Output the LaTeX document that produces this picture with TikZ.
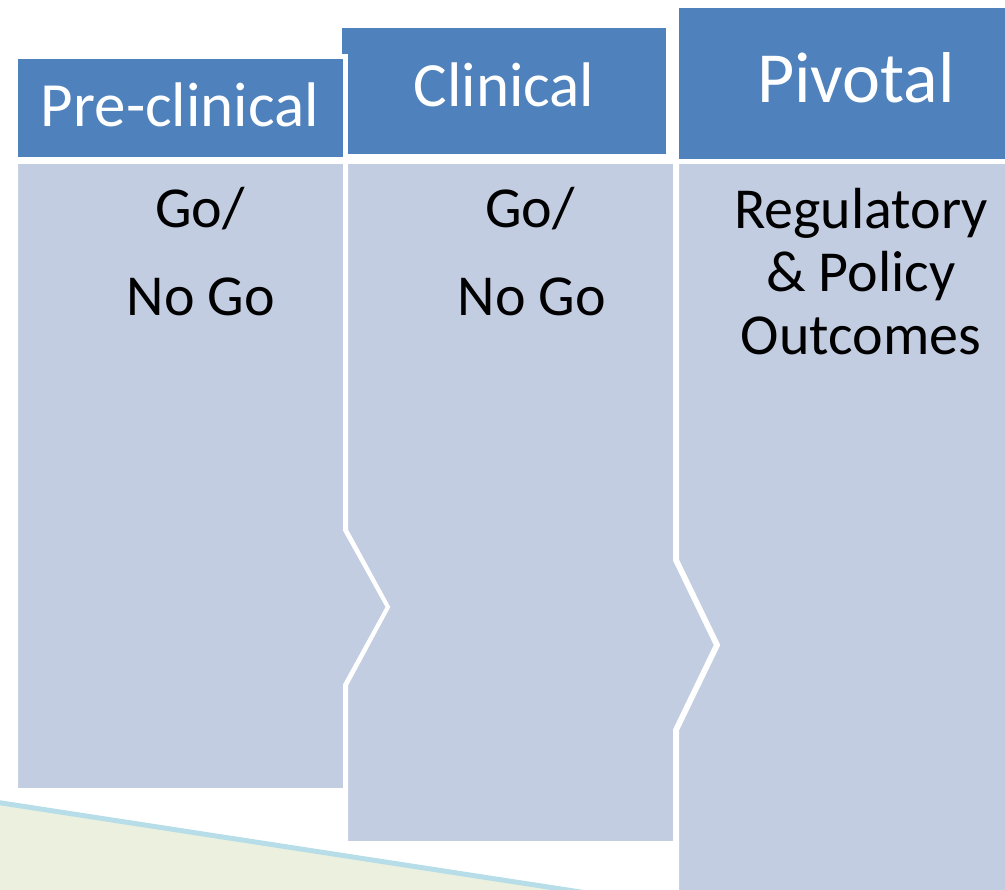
\documentclass[tikz,border=0pt]{standalone}
\usepackage{fontspec}
\setmainfont{Carlito}
\usepackage{xcolor}

\definecolor{hdrblue}{HTML}{4F81BD}
\definecolor{bodyblue}{HTML}{C3CDE2}
\definecolor{lightgreen}{HTML}{EBF1DE}
\definecolor{lineblue}{HTML}{B7DEE8}

\begin{document}
\begin{tikzpicture}[x=1pt, y=-1pt,
    hdrbox/.style={fill=hdrblue, draw=white, line width=5pt},
    bodybox/.style={fill=bodyblue, draw=white, line width=4pt},
    hdrtext/.style={anchor=base, inner sep=0pt, text=white, font=\fontsize{63}{70}\selectfont},
    bodytext/.style={anchor=base, inner sep=0pt, font=\fontsize{58}{62}\selectfont}]
    \useasboundingbox (0,0) rectangle (1005,890);

    % Green background corner
    \fill[lightgreen] (-5,802) -- (600,895) -- (-5,895) -- cycle;
    \draw[lineblue, line width=5pt] (-5,802) -- (600,895);

    % Body columns (each one notched by the one before)
    \draw[bodybox] (16,162) -- (345,162) -- (345,530) -- (388,607)
        -- (345,685) -- (345,790) -- (16,790) -- cycle;
    \draw[bodybox] (346,162) -- (675,162) -- (675,560) -- (716,645)
        -- (675,730) -- (675,843) -- (346,843) -- (346,685)
        -- (388,607) -- (346,530) -- cycle;
    \draw[bodybox] (677,162) -- (1015,162) -- (1015,900) -- (677,900)
        -- (677,730) -- (718,645) -- (677,560) -- cycle;

    % Header boxes
    \draw[hdrbox] (339.5,25.5) rectangle (668.5,156.5);
    \draw[hdrbox] (15.5,56.5) rectangle (345.5,159.5);
    \draw[hdrbox] (676.5,5.5) rectangle (1045,161.5);

    % Header labels
    \node[hdrtext] (preclin) at (180,127) {Pre-clinical};
    \node[hdrtext] (clin) at (504,107) {Clinical};
    \node[hdrtext, font=\fontsize{72}{80}\selectfont] (pivot) at (856,103) {Pivotal};

    % Body labels
    \node[bodytext] (go1) at (200,228) {Go/};
    \node[bodytext] (nogo1) at (201,316) {No Go};
    \node[bodytext] (go2) at (530,228) {Go/};
    \node[bodytext] (nogo2) at (532,316) {No Go};
    \node[bodytext] (reg) at (861,229) {Regulatory};
    \node[bodytext] (policy) at (861,292) {\& Policy};
    \node[bodytext] (outc) at (861,355) {Outcomes};
\end{tikzpicture}
\end{document}
